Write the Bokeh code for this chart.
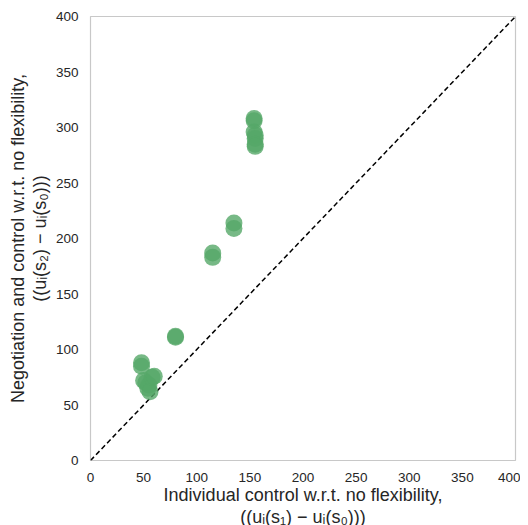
from bokeh.plotting import figure
from bokeh.models import Range1d, FixedTicker, ColumnDataSource
from bokeh.embed import file_html
from bokeh.resources import INLINE

# Data
individual_control = [48, 48, 50, 52, 54, 55, 56, 58, 60, 80, 80,
                      115, 115, 135, 135,
                      154, 154, 154, 155, 155, 155, 155]
negotiation_control = [88, 85, 72, 70, 65, 68, 62, 75, 76, 112, 111,
                       187, 183, 214, 209,
                       308, 306, 296, 293, 290, 285, 283]
diag_x = [0, 400]
diag_y = [0, 400]
ticks = [0, 50, 100, 150, 200, 250, 300, 350, 400]

p = figure(width=520, height=524, output_backend="svg", toolbar_location=None,
           x_range=Range1d(0, 400), y_range=Range1d(0, 400),
           min_border_left=90, min_border_right=5, min_border_top=16, min_border_bottom=60)
p.frame_width = 425
p.frame_height = 444

p.line(diag_x, diag_y, line_color="black", line_dash="5 3", line_width=1.5)
src = ColumnDataSource(dict(x=individual_control, y=negotiation_control))
p.scatter("x", "y", source=src, size=17, fill_color="#55a868", fill_alpha=0.8,
          line_color=None)

p.xgrid.visible = False
p.ygrid.visible = False
p.outline_line_color = "#c8c8c8"
p.outline_line_width = 1.2
p.background_fill_color = "white"
p.border_fill_color = "white"

for ax in (p.xaxis[0], p.yaxis[0]):
    ax.ticker = FixedTicker(ticks=ticks)
    ax.axis_line_color = None
    ax.major_tick_line_color = None
    ax.minor_tick_line_color = None
    ax.major_label_text_font = "Liberation Sans"
    ax.major_label_text_font_size = "13.5px"
    ax.major_label_text_color = "#262626"
    ax.axis_label_text_font = "Liberation Sans"
    ax.axis_label_text_font_size = "18px"
    ax.axis_label_text_font_style = "normal"
    ax.axis_label_text_color = "#262626"
    ax.axis_label_text_line_height = 1.1
    ax.major_label_standoff = 6

p.xaxis[0].axis_label_standoff = 0
p.yaxis[0].axis_label_standoff = 3
p.xaxis[0].axis_label = "Individual control w.r.t. no flexibility,\n((uᵢ(s₁) − uᵢ(s₀)))"
p.yaxis[0].axis_label = "Negotiation and control w.r.t. no flexibility,\n((uᵢ(s₂) − uᵢ(s₀)))"

open("out.html", "w").write(file_html(p, INLINE))
